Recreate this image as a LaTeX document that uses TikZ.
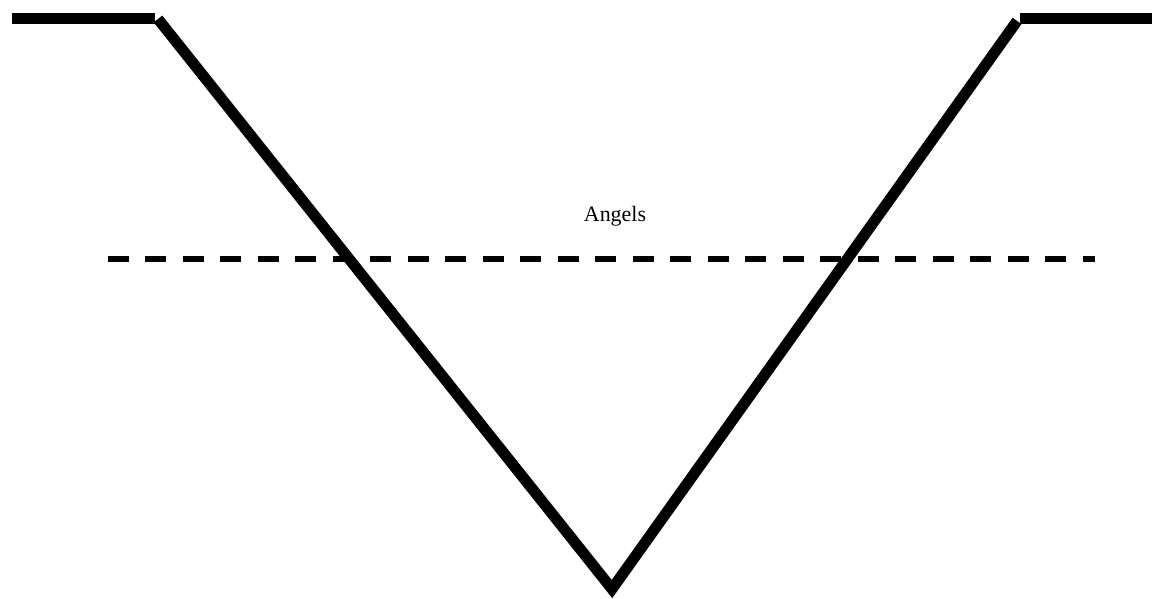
\documentclass[tikz,border=0pt]{standalone}
\usepackage{fontspec}
\setmainfont{Liberation Serif}
\usetikzlibrary{calc}

\tikzset{
  wall/.style={line width=6.2pt},
  waterline/.style={line width=2.9pt, dash pattern=on 0.42cm off 0.33cm},
  shade/.style={gray!55},
}

\begin{document}
\begin{tikzpicture}[x=0.02cm, y=-0.02cm]
\useasboundingbox (0,0) rectangle (1152,598);

% Named corners of the valley
\coordinate (leftend) at (12,18.5);
\coordinate (leftrim) at (155,18.5);
\coordinate (leftlip) at (158,19);
\coordinate (bottom) at (612,589);
\coordinate (rightlip) at (1017,21);
\coordinate (rightrim) at (1020,18.5);
\coordinate (rightend) at (1152,18.5);
\coordinate (dashstart) at (108,259);
\coordinate (dashend) at (1095,259);

% Shadow of the valley and the dashed line
\begin{scope}[shift={(1.5,2.5)}]
\draw[wall, shade] (leftend) -- (leftrim);
\draw[wall, shade, miter limit=4] (leftlip) -- (bottom) -- (rightlip);
\draw[wall, shade] (rightrim) -- (rightend);
\draw[waterline, shade] (dashstart) -- (dashend);
\end{scope}

% Valley walls
\draw[wall] (leftend) -- (leftrim);
\draw[wall, miter limit=4] (leftlip) -- (bottom) -- (rightlip);
\draw[wall] (rightrim) -- (rightend);

% Dashed line and label
\draw[waterline] (dashstart) -- (dashend);
\node[font=\fontsize{12.5}{15}\selectfont] (angels) at (615,216) {Angels};

\end{tikzpicture}
\end{document}
